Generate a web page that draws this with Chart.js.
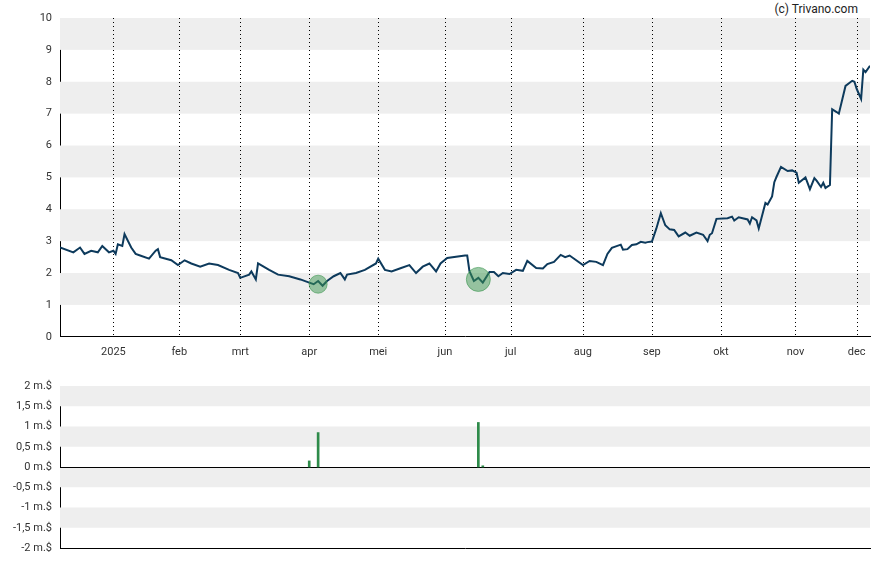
<!DOCTYPE html><html><head><meta charset="utf-8">
<script src="https://cdn.jsdelivr.net/npm/chart.js@4"></script>
<style>body{margin:0;background:#fff;width:888px;height:565px;position:relative;overflow:hidden;font-family:Roboto}
canvas{position:absolute;left:0}#c1{top:0}#c2{top:365px}
#cp{position:absolute;right:30px;top:2px;font:12px Roboto;color:#222}</style></head><body>
<div id="cp">(c) Trivano.com</div>
<canvas id="c1" width="888" height="360"></canvas><canvas id="c2" width="888" height="200"></canvas>
<script>
const days=[-24,-18,-15,-13,-10,-7,-5,-2,0,1,2,4,5,8,10,12,16,19,20,21,26,29,32,35,39,43,47,52,56,57,61,62,64,65,70,74,79,84,88,90,92,94,96,99,102,104,105,109,113,118,119,122,125,129,133,136,139,142,145,147,150,158,159,160,162,164,166,169,171,173,175,178,181,184,186,190,193,195,198,201,203,205,211,214,217,220,222,224,228,229,231,233,235,237,239,240,242,244,246,248,250,252,254,257,259,262,265,267,268,269,271,276,278,279,281,285,286,287,289,290,293,294,296,297,298,300,303,305,307,308,311,313,315,316,318,319,320,322,323,325,326,329,332,333,334,336,337,338,340];
const prices=[2.8,2.65,2.8,2.6,2.7,2.65,2.85,2.65,2.7,2.6,2.9,2.85,3.22,2.8,2.6,2.55,2.45,2.7,2.75,2.5,2.4,2.25,2.4,2.3,2.2,2.3,2.25,2.1,2.0,1.85,1.95,2.05,1.8,2.3,2.1,1.95,1.9,1.8,1.7,1.65,1.75,1.6,1.75,1.9,2.0,1.8,1.95,2.0,2.1,2.3,2.45,2.1,2.05,2.15,2.25,2.0,2.2,2.3,2.05,2.3,2.47,2.55,2.55,2.06,1.75,1.85,1.7,2.03,2.03,1.9,2.0,1.97,2.1,2.07,2.38,2.16,2.14,2.28,2.35,2.57,2.5,2.55,2.25,2.38,2.35,2.25,2.6,2.79,2.89,2.73,2.75,2.88,2.9,2.98,2.95,2.97,2.99,3.4,3.88,3.5,3.37,3.35,3.15,3.27,3.17,3.27,3.2,3.0,3.2,3.25,3.7,3.72,3.77,3.65,3.75,3.68,3.55,3.75,3.65,3.4,4.2,4.15,4.4,4.85,5.02,5.33,5.2,5.22,5.15,4.83,5.0,4.63,4.98,4.9,4.7,4.83,4.67,4.76,7.14,7.05,7.0,7.87,8.03,8.0,7.78,7.46,8.38,8.3,8.5];
const volDays=[88,92,164,166];
const volumes=[0.15,0.85,1.1,0.03];
const bubbleDays=[92,164];const bubbleVals=[1.65,1.8];const bubbleR=[9,12];
const monthDays=[0,29.6,57,88,119,149,178.5,211,242,273,306.5,334];
const monthLabels=['2025','feb','mrt','apr','mei','jun','jul','aug','sep','okt','nov','dec'];
const XMIN=-24,XMAX=340;
const bands={id:'bands',beforeDatasetsDraw(c,a,o){const{ctx,chartArea:ca,scales:{y}}=c;ctx.save();ctx.fillStyle='#eeeeee';
 for(const [lo,hi] of o.list){const t=y.getPixelForValue(hi),b=y.getPixelForValue(lo);ctx.fillRect(ca.left,t,ca.right-ca.left,b-t);}
 ctx.strokeStyle='#000';ctx.lineWidth=1;const x=c.scales.x;
 if(o.months){ctx.setLineDash([1,3]);for(const d of monthDays){const px=Math.round(x.getPixelForValue(d))+0.5;ctx.beginPath();ctx.moveTo(px,ca.top);ctx.lineTo(px,ca.bottom);ctx.stroke();}}
 ctx.setLineDash([]);if(o.zero){const py=Math.round(y.getPixelForValue(0))+0.5;ctx.beginPath();ctx.moveTo(ca.left,py);ctx.lineTo(ca.right,py);ctx.stroke();}
 ctx.restore();}};
const fix=w=>({afterFit(s){s.width=w;}});
function xScale(show){return{type:'linear',offset:false,min:XMIN,max:XMAX,afterBuildTicks(s){s.ticks=monthDays.map(v=>({value:v}));},
 ticks:{display:show,padding:1,autoSkip:false,maxRotation:0,color:'#333',font:{family:'Roboto',size:11},callback:(v)=>monthLabels[monthDays.indexOf(v)]},
 grid:{display:false,drawTicks:true},border:{color:'#000'}};}
new Chart(document.getElementById('c1'),{data:{datasets:[
 {type:'line',data:days.map((d,i)=>({x:d,y:prices[i]})),borderColor:'#0d3a5c',borderWidth:2,pointRadius:0,tension:0,order:2},
 {type:'bubble',data:bubbleDays.map((d,i)=>({x:d,y:bubbleVals[i],r:bubbleR[i]})),backgroundColor:'rgba(60,150,80,0.5)',borderColor:'rgba(60,150,80,0.6)',order:1}]},
 options:{animation:false,responsive:false,layout:{padding:{left:0,right:18,top:18,bottom:0}},plugins:{legend:{display:false},tooltip:{enabled:false},bands:{list:[[1,2],[3,4],[5,6],[7,8],[9,10]],months:true}},
 scales:{x:xScale(true),y:{min:0,max:10,...fix(60),ticks:{stepSize:1,color:'#333',font:{family:'Roboto',size:11}},grid:{display:false,drawTicks:true,tickLength:5},border:{color:'#000'}}}},plugins:[bands]});
new Chart(document.getElementById('c2'),{type:'bar',data:{datasets:[{data:volDays.map((d,i)=>({x:d,y:volumes[i]})),backgroundColor:'#2e8b4a',barThickness:2}]},
 options:{animation:false,responsive:false,layout:{padding:{left:0,right:18,top:21,bottom:9}},plugins:{legend:{display:false},tooltip:{enabled:false},bands:{list:[[1.5,2],[0.5,1],[-0.5,0],[-1.5,-1]],zero:true}},
 scales:{x:{...xScale(false),ticks:{display:false},border:{color:'#000'}},y:{min:-2,max:2,...fix(60),ticks:{stepSize:0.5,color:'#333',font:{family:'Roboto',size:11},callback:v=>String(v).replace('.',',')+' m.$'},grid:{display:false,drawTicks:true,tickLength:5},border:{color:'#000'}}}},plugins:[bands]});
</script></body></html>
